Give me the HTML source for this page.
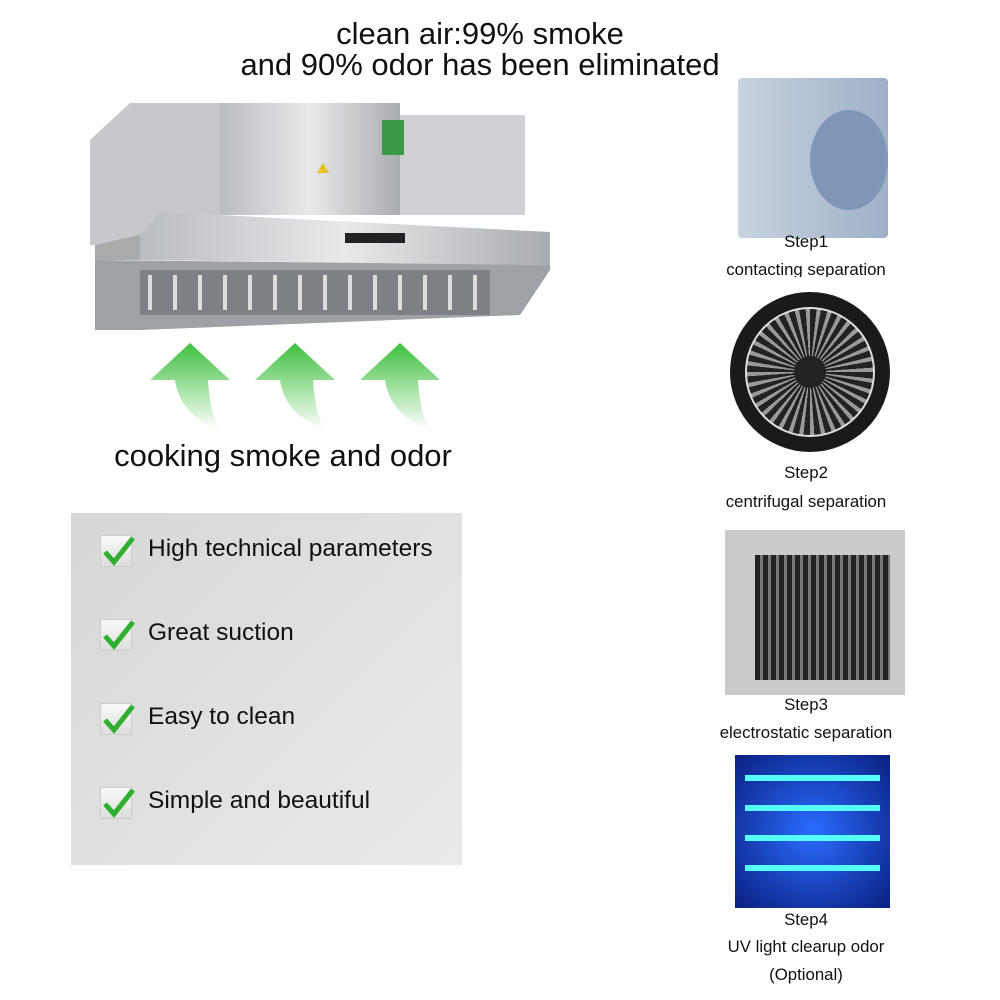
<!DOCTYPE html>
<html><head><meta charset="utf-8"><style>
body{margin:0;width:1000px;height:1000px;background:#fff;position:relative;overflow:hidden;font-family:"Liberation Sans",sans-serif;color:#111}
.a{position:absolute}
.t{text-align:center;white-space:nowrap}
.chk{position:absolute;left:100px;width:30px;height:30px;background:linear-gradient(#fafafa,#ddd);border:1px solid #ccc}
.li{position:absolute;left:148px;font-size:24.5px}
.st{position:absolute;font-size:16.8px;text-align:center;width:240px;left:686px;white-space:nowrap}
</style></head><body>
<div class="a t" style="left:180px;width:600px;top:18px;font-size:31px;line-height:31px">clean air:99% smoke<br>and 90% odor has been eliminated</div>

<!-- hood -->
<svg class="a" style="left:80px;top:95px" width="480" height="250">
<defs><linearGradient id="m" x1="0" x2="1"><stop offset="0" stop-color="#b9bcc0"/><stop offset=".5" stop-color="#e8e9eb"/><stop offset="1" stop-color="#a9acb0"/></linearGradient></defs>
<polygon points="10,45 50,8 140,8 140,150 10,150" fill="#c6c8cb"/>
<rect x="140" y="8" width="180" height="112" fill="url(#m)"/>
<rect x="320" y="20" width="125" height="100" fill="#cfd1d4"/>
<rect x="302" y="25" width="22" height="35" fill="#3a9a4a"/>
<polygon points="243,68 249,78 237,78" fill="#e8c020"/>
<polygon points="60,140 80,117 470,137 470,170 60,165" fill="url(#m)"/>
<polygon points="15,150 60,140 60,165 15,165" fill="#aaa"/>
<rect x="265" y="138" width="60" height="10" fill="#222"/>
<polygon points="15,165 470,170 470,175 440,220 60,235 15,235" fill="#9ea1a5"/>
<rect x="60" y="175" width="350" height="45" fill="#7d8084"/>
<g stroke="#ddd" stroke-width="4"><line x1="70" y1="180" x2="70" y2="215"/><line x1="95" y1="180" x2="95" y2="215"/><line x1="120" y1="180" x2="120" y2="215"/><line x1="145" y1="180" x2="145" y2="215"/><line x1="170" y1="180" x2="170" y2="215"/><line x1="195" y1="180" x2="195" y2="215"/><line x1="220" y1="180" x2="220" y2="215"/><line x1="245" y1="180" x2="245" y2="215"/><line x1="270" y1="180" x2="270" y2="215"/><line x1="295" y1="180" x2="295" y2="215"/><line x1="320" y1="180" x2="320" y2="215"/><line x1="345" y1="180" x2="345" y2="215"/><line x1="370" y1="180" x2="370" y2="215"/><line x1="395" y1="180" x2="395" y2="215"/></g>
</svg>

<!-- arrows -->
<svg class="a" style="left:130px;top:335px" width="330" height="100">
<defs><linearGradient id="g" x1="0" y1="0" x2="0" y2="1"><stop offset="0" stop-color="#3ec03e"/><stop offset="1" stop-color="#fff"/></linearGradient></defs>
<g fill="url(#g)">
<path d="M60 8 L100 45 L78 45 Q80 80 90 95 Q50 80 45 45 L20 45 Z"/>
<path d="M165 8 L205 45 L183 45 Q185 80 195 95 Q155 80 150 45 L125 45 Z"/>
<path d="M270 8 L310 45 L288 45 Q290 80 300 95 Q260 80 255 45 L230 45 Z"/>
</g></svg>
<div class="a t" style="left:83px;width:400px;top:438px;font-size:31px">cooking smoke and odor</div>

<div class="a" style="left:71px;top:513px;width:391px;height:352px;background:linear-gradient(135deg,#d8d7d5,#ebeae8)"></div>
<div class="chk" style="top:535px"></div><div class="li" style="top:535px">High technical parameters</div>
<div class="chk" style="top:619px"></div><div class="li" style="top:619px">Great suction</div>
<div class="chk" style="top:703px"></div><div class="li" style="top:703px">Easy to clean</div>
<div class="chk" style="top:787px"></div><div class="li" style="top:787px">Simple and beautiful</div>
<svg class="a" style="left:100px;top:530px" width="40" height="300"><g fill="none" stroke="#2fae2f" stroke-width="5"><path d="M5 22 L14 32 L33 8"/><path d="M5 106 L14 116 L33 92"/><path d="M5 190 L14 200 L33 176"/><path d="M5 274 L14 284 L33 260"/></g></svg>

<!-- step1 -->
<div class="a" style="left:738px;top:78px;width:150px;height:160px;background:linear-gradient(90deg,#c9d3e0,#9fb0c8);border-radius:4px"></div>
<div class="a" style="left:810px;top:110px;width:78px;height:100px;border-radius:50%;background:#7f96b6"></div>
<div class="st" style="top:232px">Step1</div>
<div class="st" style="top:260px;height:17px;overflow:hidden">contacting separation</div>
<!-- step2 -->
<div class="a" style="left:730px;top:292px;width:160px;height:160px;border-radius:50%;background:#1a1a1a"></div>
<div class="a" style="left:745px;top:307px;width:126px;height:126px;border-radius:50%;border:2px solid #ddd;background:repeating-conic-gradient(#222 0 6deg,#999 6deg 10deg)"></div>
<div class="a" style="left:794px;top:356px;width:32px;height:32px;border-radius:50%;background:#222"></div>
<div class="st" style="top:463px">Step2</div>
<div class="st" style="top:492px">centrifugal separation</div>
<!-- step3 -->
<div class="a" style="left:725px;top:530px;width:180px;height:165px;background:#c8cacc"></div>
<div class="a" style="left:755px;top:555px;width:135px;height:125px;background:repeating-linear-gradient(90deg,#222 0 5px,#777 5px 8px)"></div>
<div class="st" style="top:695px">Step3</div>
<div class="st" style="top:723px">electrostatic separation</div>
<!-- step4 -->
<div class="a" style="left:735px;top:755px;width:155px;height:153px;background:radial-gradient(#2a6cff,#0a1f80)"></div>
<div class="a" style="left:745px;top:775px;width:135px;height:110px;background:repeating-linear-gradient(180deg,#5ff 0 6px,transparent 6px 30px)"></div>
<div class="st" style="top:910px">Step4</div>
<div class="st" style="top:937px">UV light clearup odor</div>
<div class="st" style="top:965px">(Optional)</div>
</body></html>
